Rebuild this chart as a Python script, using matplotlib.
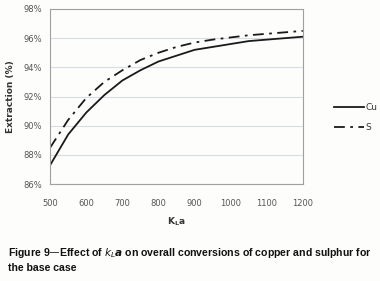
import numpy as np
import matplotlib.pyplot as plt

kla = [500, 550, 600, 650, 700, 750, 800, 850, 900, 950, 1000, 1050, 1100, 1150, 1200]
cu = [87.3, 89.4, 90.9, 92.1, 93.1, 93.8, 94.4, 94.8, 95.2, 95.4, 95.6, 95.8, 95.9, 96.0, 96.1]
s = [88.5, 90.4, 91.9, 93.0, 93.8, 94.5, 95.0, 95.4, 95.7, 95.9, 96.05, 96.2, 96.3, 96.4, 96.5]
yticks = [86, 88, 90, 92, 94, 96, 98]
xticks = [500, 600, 700, 800, 900, 1000, 1100, 1200]

fig = plt.figure(figsize=(3.8, 2.81), dpi=100, facecolor='#fdfdfb')
ax = fig.add_axes([0.132, 0.345, 0.665, 0.623], facecolor='#fdfdfb')

ax.plot(kla, cu, color='#1a1a1a', lw=1.3, label='Cu')
ax.plot(kla, s, color='#1a1a1a', lw=1.3, dashes=(6, 3, 1.5, 3), label='S')

ax.set_xlim(500, 1200)
ax.set_ylim(86, 98)
ax.set_xticks(xticks)
ax.set_yticks(yticks)
ax.set_yticklabels(['%d%%' % v for v in yticks])
ax.grid(axis='y', color='#d8dde3', lw=0.8)
ax.set_axisbelow(True)
for sp in ax.spines.values():
    sp.set_color('#a0a0a0')
    sp.set_linewidth(0.8)
ax.tick_params(axis='x', length=0, labelsize=6, colors='#555555', pad=11)
ax.tick_params(axis='y', length=0, labelsize=6, colors='#555555', pad=6)
ax.set_ylabel('Extraction (%)', fontsize=6.5, fontweight='bold', color='#333333', labelpad=6)
ax.set_xlabel('K$_\\mathregular{L}$a', fontsize=6.5, fontweight='bold', color='#333333', labelpad=5)

ax.legend(loc='center left', bbox_to_anchor=(1.09, 0.38), frameon=False, fontsize=6.5,
          handlelength=3.3, handletextpad=0.2, labelspacing=1.2, labelcolor='#333333')

fig.text(0.02, 0.03, 'Figure 9\u2014Effect of $\\boldsymbol{k_La}$ on overall conversions of copper and sulphur for\nthe base case',
         fontsize=7.6, fontweight='bold', family='Liberation Sans', color='#111111', linespacing=1.35,
         va='bottom')

fig.savefig('out.png', dpi=100, facecolor=fig.get_facecolor())
